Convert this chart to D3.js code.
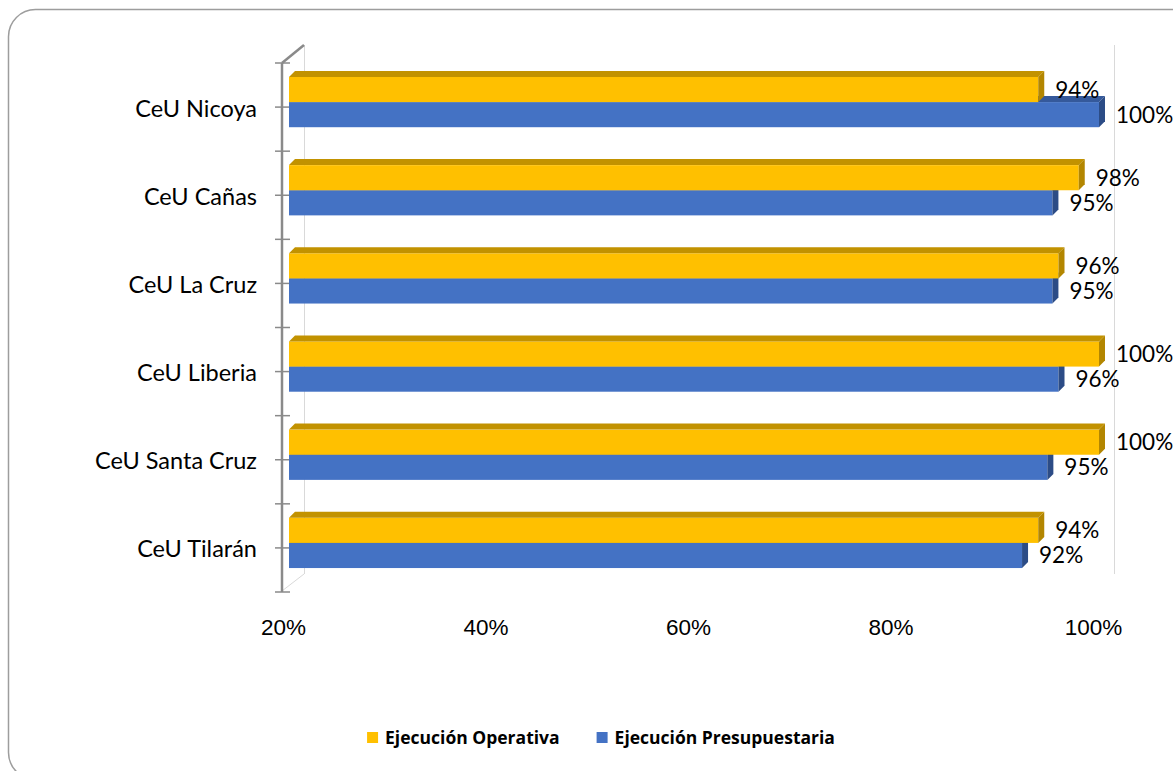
<!DOCTYPE html>
<html>
<head>
<meta charset="utf-8">
<script src="https://cdn.jsdelivr.net/npm/d3@7"></script>
<style>
  html, body { margin: 0; padding: 0; background: #fff; }
  svg { display: block; font-family: Lato, "Open Sans", sans-serif; }
</style>
</head>
<body>
<div id="chart"></div>
<script>
const categories = ["CeU Nicoya", "CeU Cañas", "CeU La Cruz", "CeU Liberia", "CeU Santa Cruz", "CeU Tilarán"];
const operativa = [94, 98, 96, 100, 100, 94];
const presupuestaria = [100, 95.4, 95.4, 96, 94.9, 92.4];
const xTicks = [20, 40, 60, 80, 100];
const seriesNames = ["Ejecución Operativa", "Ejecución Presupuestaria"];

const width = 1173;
const height = 771;

const colors = {
  op: { front: "#ffc000", top: "#c29200", side: "#b38600" },
  pr: { front: "#4472c4", top: "#35599b", side: "#2c4c86" }
};

const svg = d3.select("#chart").append("svg")
  .attr("width", width)
  .attr("height", height);

// outer rounded frame (runs off the right / bottom edge)
svg.append("rect")
  .attr("x", 8.5).attr("y", 9.5)
  .attr("width", 1220).attr("height", 770)
  .attr("rx", 27).attr("ry", 27)
  .attr("fill", "none")
  .attr("stroke", "#9d9d9d")
  .attr("stroke-width", 1.5);

// scales: front plane of the 3d box
const x = d3.scaleLinear().domain([20, 100]).range([283, 1093]);
const yTop = 63, yBot = 592;
const y = d3.scaleBand().domain(categories).range([yTop, yBot]).paddingInner(0.43).paddingOuter(0.215);
const yAxisBand = d3.scaleBand().domain(categories).range([yTop, yBot]);
const ySub = d3.scaleBand().domain(["op", "pr"]).range([0, y.bandwidth()]);

const wall = { dx: 22, dy: -18 };
const barShift = { dx: 6, dy: -5 };
const depth = 6;

// back wall edges and floor
const grid = svg.append("g").attr("stroke", "#d9d9d9").attr("stroke-width", 1);
[20, 100].forEach((v) => {
  grid.append("line")
    .attr("x1", x(v) + wall.dx - 0.5).attr("x2", x(v) + wall.dx - 0.5)
    .attr("y1", yTop + wall.dy).attr("y2", yBot + wall.dy);
});
grid.append("line")
  .attr("x1", x(20) - 1).attr("y1", yBot - 1)
  .attr("x2", x(20) + wall.dx - 1).attr("y2", yBot + wall.dy);

// vertical axis
const axisColor = "#8a8a8a";
const axisX = x(20) - 1;
svg.append("line")
  .attr("x1", axisX).attr("x2", axisX)
  .attr("y1", yTop).attr("y2", yBot)
  .attr("stroke", axisColor).attr("stroke-width", 2.5);
svg.append("line")
  .attr("x1", axisX).attr("y1", yTop)
  .attr("x2", axisX + wall.dx).attr("y2", yTop + wall.dy)
  .attr("stroke", axisColor).attr("stroke-width", 2.5);

const tickYs = [];
categories.forEach((c) => {
  tickYs.push(yAxisBand(c));
  tickYs.push(yAxisBand(c) + yAxisBand.step() / 2);
});
tickYs.push(yBot);
svg.append("g").selectAll("line")
  .data(tickYs)
  .join("line")
  .attr("x1", axisX - 7).attr("x2", axisX + 8)
  .attr("y1", (d) => d).attr("y2", (d) => d)
  .attr("stroke", axisColor).attr("stroke-width", 1.5);

// category labels
svg.append("g").selectAll("text")
  .data(categories)
  .join("text")
  .attr("x", 257)
  .attr("y", (d) => yAxisBand(d) + yAxisBand.step() / 2 + 9.5)
  .attr("text-anchor", "end")
  .style("font-size", "23.5px")
  .style("fill", "#000")
  .text((d) => d);

// bars
const rows = categories.map((c, i) => ({
  cat: c,
  items: [
    { key: "pr", value: presupuestaria[i] },
    { key: "op", value: operativa[i] }
  ]
}));

const barsG = svg.append("g").attr("transform", `translate(${barShift.dx},${barShift.dy})`);

const rowG = barsG.selectAll("g.row")
  .data(rows)
  .join("g")
  .attr("class", "row");

rowG.each(function (row) {
  const g = d3.select(this);
  row.items.forEach((it) => {
    const c = colors[it.key];
    const x0 = x(20);
    const x1 = x(it.value);
    const y0 = y(row.cat) + ySub(it.key);
    const h = ySub.bandwidth();
    g.append("rect")
      .attr("x", x0).attr("y", y0)
      .attr("width", x1 - x0).attr("height", h)
      .attr("fill", c.front);
    g.append("path")
      .attr("d", `M${x0},${y0}L${x0 + depth},${y0 - depth}L${x1 + depth},${y0 - depth}L${x1},${y0}Z`)
      .attr("fill", c.top);
    g.append("path")
      .attr("d", `M${x1},${y0}L${x1 + depth},${y0 - depth}L${x1 + depth},${y0 + h - depth}L${x1},${y0 + h}Z`)
      .attr("fill", c.side);
  });
});

// data labels
rowG.each(function (row) {
  const g = d3.select(this);
  row.items.forEach((it) => {
    g.append("text")
      .attr("x", x(it.value) + 17)
      .attr("y", y(row.cat) + ySub(it.key) + ySub.bandwidth() / 2 + 8)
      .style("font-size", "22.5px")
      .style("fill", "#000")
      .text(Math.round(it.value) + "%");
  });
});

// x axis labels
const xAxisG = svg.append("g")
  .attr("transform", `translate(0,619)`)
  .call(d3.axisBottom(x).tickValues(xTicks).tickSize(0).tickPadding(0).tickFormat((d) => d + "%"));
xAxisG.select(".domain").remove();
xAxisG.selectAll("text")
  .attr("font-family", null)
  .style("font-size", "22.5px")
  .style("fill", "#000");

// legend, centred under the plot
const legendKeys = ["op", "pr"];
const legendG = svg.append("g").attr("transform", "translate(0,744)");
const items = legendKeys.map((k, i) => {
  const it = legendG.append("g");
  it.append("rect")
    .attr("x", 0).attr("y", -12)
    .attr("width", 11).attr("height", 11)
    .attr("fill", colors[k].front);
  const t = it.append("text")
    .attr("x", 18).attr("y", 0)
    .style("font-family", "'Open Sans', sans-serif")
    .style("font-size", "17.5px")
    .style("font-weight", "700")
    .style("fill", "#000")
    .text(seriesNames[i]);
  return { g: it, w: 18 + t.node().getComputedTextLength() };
});
const gap = 37;
const total = d3.sum(items, (d) => d.w) + gap * (items.length - 1);
let lx = 601 - total / 2;
items.forEach((d) => {
  d.g.attr("transform", `translate(${lx},0)`);
  lx += d.w + gap;
});
</script>
</body>
</html>
